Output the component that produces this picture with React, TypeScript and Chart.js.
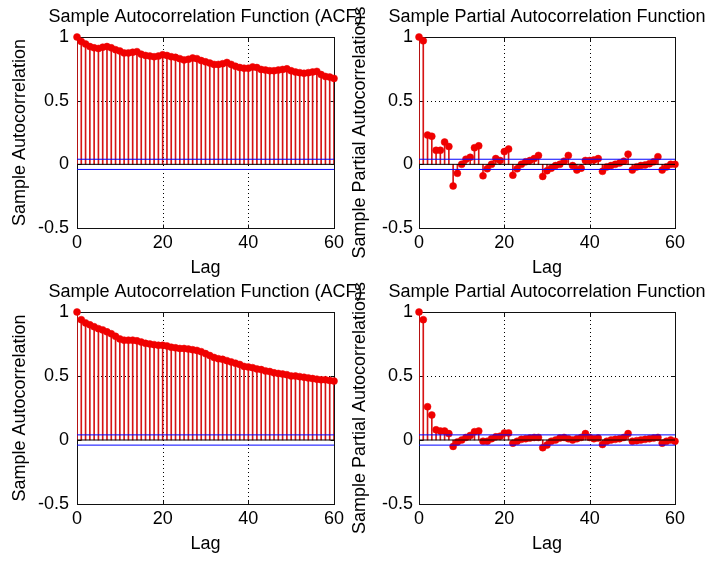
import React, { useEffect, useRef } from "react";
import { Chart, registerables } from "chart.js";

Chart.register(...registerables);

// ---------- data (lags 0..60) ----------
const acfTop = [
  1.0, 0.965, 0.945, 0.925, 0.915, 0.91, 0.92, 0.925, 0.915, 0.9,
  0.89, 0.875, 0.875, 0.88, 0.885, 0.865, 0.855, 0.85, 0.845, 0.85,
  0.86, 0.855, 0.845, 0.84, 0.83, 0.82, 0.825, 0.835, 0.83, 0.815,
  0.805, 0.795, 0.785, 0.785, 0.79, 0.8, 0.785, 0.77, 0.76, 0.755,
  0.755, 0.765, 0.76, 0.745, 0.74, 0.735, 0.735, 0.74, 0.745, 0.75,
  0.735, 0.725, 0.72, 0.715, 0.72, 0.725, 0.73, 0.705, 0.69, 0.685, 0.675,
];

const pacfTop = [
  1.0, 0.97, 0.23, 0.22, 0.11, 0.11, 0.175, 0.14, -0.17, -0.07,
  0.0, 0.04, 0.055, 0.13, 0.145, -0.09, -0.035, 0.0, 0.045, 0.03,
  0.1, 0.12, -0.085, -0.035, 0.0, 0.02, 0.03, 0.045, 0.07, -0.095,
  -0.05, -0.03, -0.01, 0.0, 0.025, 0.07, -0.01, -0.045, -0.03, 0.03,
  0.03, 0.035, 0.045, -0.055, -0.02, -0.01, 0.0, 0.01, 0.025, 0.08,
  -0.045, -0.02, -0.01, -0.005, 0.005, 0.02, 0.06, -0.045, -0.02, 0.0, 0.0,
];

const acfBottom = [
  1.0, 0.94, 0.915, 0.9, 0.885, 0.87, 0.86, 0.845, 0.83, 0.81,
  0.79, 0.78, 0.78, 0.78, 0.775, 0.765, 0.755, 0.75, 0.745, 0.74,
  0.74, 0.735, 0.725, 0.72, 0.715, 0.715, 0.71, 0.705, 0.7, 0.69,
  0.675, 0.66, 0.645, 0.635, 0.63, 0.62, 0.61, 0.6, 0.59, 0.575,
  0.57, 0.565, 0.555, 0.55, 0.54, 0.535, 0.525, 0.52, 0.515, 0.51,
  0.5, 0.5, 0.495, 0.49, 0.485, 0.48, 0.475, 0.47, 0.47, 0.465, 0.46,
];

const pacfBottom = [
  1.0, 0.94, 0.26, 0.195, 0.08, 0.07, 0.07, 0.05, -0.05, -0.015,
  0.0, 0.02, 0.035, 0.065, 0.07, -0.01, -0.01, 0.01, 0.025, 0.03,
  0.055, 0.055, -0.025, -0.01, 0.005, 0.01, 0.015, 0.02, 0.02, -0.06,
  -0.04, -0.01, 0.0, 0.015, 0.02, 0.01, 0.0, 0.01, 0.02, 0.05,
  0.02, 0.01, 0.015, -0.035, -0.01, 0.0, 0.005, 0.01, 0.02, 0.05,
  -0.01, -0.005, 0.0, 0.005, 0.01, 0.015, 0.02, -0.025, -0.01, 0.0, -0.01,
];

const xTicks = [0, 20, 40, 60];
const yTicks = [-0.5, 0, 0.5, 1];
const confBound = 0.04;

const titleACF = "Sample Autocorrelation Function (ACF)";
const titlePACF = "Sample Partial Autocorrelation Function";
const yLabelACF = "Sample Autocorrelation";
const yLabelPACF = "Sample Partial Autocorrelations";
const xLabel = "Lag";

// ---------- layout ----------
const W = 709;
const H = 561;
const FONT = '"Liberation Sans", Arial, Helvetica, sans-serif';
const FS = 18;

type PanelCfg = {
  values: number[];
  title: string;
  yLabel: string;
  pad: { left: number; right: number; top: number; bottom: number };
  yWidth: number;
  tickPad: number;
};

const panels: PanelCfg[] = [
  { values: acfTop, title: titleACF, yLabel: yLabelACF, pad: { left: 0, right: 375, top: 37, bottom: 281 }, yWidth: 77, tickPad: 8 },
  { values: pacfTop, title: titlePACF, yLabel: yLabelPACF, pad: { left: 340, right: 34, top: 37, bottom: 281 }, yWidth: 79, tickPad: 6 },
  { values: acfBottom, title: titleACF, yLabel: yLabelACF, pad: { left: 0, right: 375, top: 312, bottom: 5 }, yWidth: 77, tickPad: 8 },
  { values: pacfBottom, title: titlePACF, yLabel: yLabelPACF, pad: { left: 340, right: 34, top: 312, bottom: 5 }, yWidth: 79, tickPad: 6 },
];

const matlabAxes = {
  id: "matlabAxes",
  beforeDatasetsDraw(chart: any) {
    const { ctx, chartArea: a, scales } = chart;
    const xs = scales.x;
    const ys = scales.y;
    ctx.save();
    // dotted grid
    ctx.strokeStyle = "#000";
    ctx.lineWidth = 1;
    ctx.setLineDash([1, 3]);
    ctx.beginPath();
    xTicks.forEach((t, i) => {
      if (i === 0 || i === xTicks.length - 1) return;
      const px = Math.round(xs.getPixelForValue(t)) + 0.5;
      ctx.moveTo(px, a.top);
      ctx.lineTo(px, a.bottom);
    });
    yTicks.forEach((t, i) => {
      if (i === 0 || i === yTicks.length - 1 || t === 0) return;
      const py = Math.round(ys.getPixelForValue(t)) + 0.5;
      ctx.moveTo(a.left, py);
      ctx.lineTo(a.right, py);
    });
    ctx.stroke();
    ctx.setLineDash([]);
    // box
    const l = Math.round(a.left) + 0.5;
    const r = Math.round(a.right) + 0.5;
    const t = Math.round(a.top) + 0.5;
    const b = Math.round(a.bottom) + 0.5;
    ctx.strokeStyle = "#111";
    ctx.strokeRect(l, t, r - l, b - t);
    // inward ticks
    const tl = 4;
    ctx.beginPath();
    xTicks.forEach((v) => {
      const px = Math.round(xs.getPixelForValue(v)) + 0.5;
      ctx.moveTo(px, b);
      ctx.lineTo(px, b - tl);
      ctx.moveTo(px, t);
      ctx.lineTo(px, t + tl);
    });
    yTicks.forEach((v) => {
      const py = Math.round(ys.getPixelForValue(v)) + 0.5;
      ctx.moveTo(l, py);
      ctx.lineTo(l + tl, py);
      ctx.moveTo(r, py);
      ctx.lineTo(r - tl, py);
    });
    ctx.stroke();
    ctx.restore();
  },
  afterDraw(chart: any) {
    const { ctx, chartArea: a } = chart;
    const text = chart.options.plugins.matlabAxes?.title;
    if (!text) return;
    ctx.save();
    ctx.fillStyle = "#000";
    ctx.font = `normal ${FS}px ${FONT}`;
    ctx.textAlign = "center";
    ctx.textBaseline = "middle";
    ctx.fillText(text, (a.left + a.right) / 2, a.top - 19.5);
    ctx.restore();
  },
};

function Panel({ cfg }: { cfg: PanelCfg }) {
  const ref = useRef<HTMLCanvasElement>(null);
  useEffect(() => {
    const pts = cfg.values.map((v, i) => ({ x: i, y: v }));
    const xMin = xTicks[0];
    const xMax = xTicks[xTicks.length - 1];
    const chart = new Chart(ref.current as HTMLCanvasElement, {
      type: "bar",
      data: {
        datasets: [
          {
            type: "line",
            data: [{ x: xMin, y: confBound }, { x: xMax, y: confBound }],
            borderColor: "#0000ff",
            borderWidth: 1,
            pointRadius: 0,
            order: 0,
          },
          {
            type: "line",
            data: [{ x: xMin, y: -confBound }, { x: xMax, y: -confBound }],
            borderColor: "#0000ff",
            borderWidth: 1,
            pointRadius: 0,
            order: 0,
          },
          {
            type: "line",
            data: [{ x: xMin, y: 0 }, { x: xMax, y: 0 }],
            borderColor: "#000",
            borderWidth: 1,
            pointRadius: 0,
            order: 0,
          },
          {
            type: "line",
            data: pts,
            showLine: false,
            pointRadius: 3.5,
            pointBackgroundColor: "rgb(240,0,0)",
            pointBorderColor: "rgb(240,0,0)",
            pointBorderWidth: 0.5,
            clip: false,
            order: 1,
          } as any,
          {
            type: "bar",
            data: pts,
            backgroundColor: "rgb(215,20,20)",
            borderWidth: 0,
            barThickness: 1,
            order: 2,
          } as any,
        ],
      },
      options: {
        responsive: false,
        animation: false,
        devicePixelRatio: 1,
        events: [],
        layout: { padding: cfg.pad },
        plugins: {
          legend: { display: false },
          tooltip: { enabled: false },
          title: { display: false },
          matlabAxes: { title: cfg.title },
        },
        scales: {
          x: {
            type: "linear",
            min: xMin,
            max: xMax,
            offset: false,
            grid: { display: false, drawTicks: false },
            border: { display: false },
            ticks: {
              stepSize: 20,
              padding: 4,
              color: "#000",
              font: { family: FONT, size: FS },
              maxRotation: 0,
              callback: (v: any) => String(v),
            },
            title: {
              display: true,
              text: xLabel,
              color: "#000",
              font: { family: FONT, size: FS },
              padding: { top: 0, bottom: 1.2 },
            },
            afterFit: (s: any) => {
              s.height = 52;
            },
          },
          y: {
            type: "linear",
            min: yTicks[0],
            max: yTicks[yTicks.length - 1],
            grid: { display: false, drawTicks: false },
            border: { display: false },
            ticks: {
              stepSize: 0.5,
              padding: cfg.tickPad,
              color: "#000",
              font: { family: FONT, size: FS },
              callback: (v: any) => String(v),
            },
            title: {
              display: true,
              text: cfg.yLabel,
              color: "#000",
              font: { family: FONT, size: FS },
              padding: { top: 9.5, bottom: 0 },
            },
            afterFit: (s: any) => {
              s.width = cfg.yWidth;
            },
          },
        },
      } as any,
      plugins: [matlabAxes],
    });
    return () => chart.destroy();
  }, [cfg]);
  return (
    <canvas
      ref={ref}
      width={W}
      height={H}
      style={{ position: "absolute", left: 0, top: 0, width: W, height: H }}
    />
  );
}

export default function App() {
  return (
    <div style={{ position: "absolute", left: 0, top: 0, width: W, height: H, background: "#fff", overflow: "hidden" }}>
      {panels.map((p, i) => (
        <Panel key={i} cfg={p} />
      ))}
    </div>
  );
}
